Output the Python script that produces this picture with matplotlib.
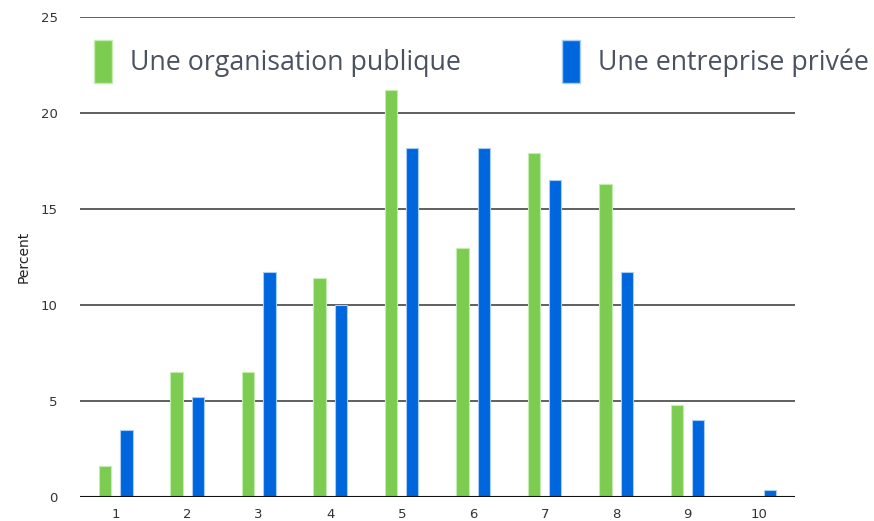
import matplotlib.pyplot as plt
import numpy as np
from matplotlib.patches import Patch

categories = ['1', '2', '3', '4', '5', '6', '7', '8', '9', '10']
publique = [1.6, 6.5, 6.5, 11.4, 21.2, 13.0, 17.9, 16.3, 4.8, 0.0]
privee = [3.5, 5.2, 11.7, 10.0, 18.2, 18.2, 16.5, 11.7, 4.0, 0.35]
labels = ['Une organisation publique', 'Une entreprise privée']

vert = '#7ccc52'
bleu = '#0066dd'

plt.rcParams['font.family'] = ['DejaVu Sans']

fig = plt.figure(figsize=(8.74, 5.21), dpi=100)
ax = fig.add_axes([0.0915, 0.046, 0.818, 0.921])

x = np.arange(1, len(categories) + 1)
w = 0.17
ax.bar(x - 0.15, publique, w, color=vert, edgecolor='#c5ecb0', linewidth=0.8, zorder=3)
ax.bar(x + 0.15, privee, w, color=bleu, edgecolor='#a8cdf5', linewidth=0.8, zorder=3)

ax.set_xlim(0.5, 10.5)
ax.set_ylim(0, 25)
ax.set_yticks([0, 5, 10, 15, 20, 25])
ax.set_xticks(x)
ax.set_xticklabels(categories)
ax.grid(axis='y', color='#444444', linewidth=1.2, zorder=0)
ax.axhline(0, color='#111111', linewidth=1.5, zorder=4)
for s in ax.spines.values():
    s.set_visible(False)
ax.tick_params(length=0, labelsize=9.5, colors='#333333')
ax.tick_params(axis='y', pad=16)
ax.tick_params(axis='x', pad=8)
ax.set_ylabel('Percent', fontsize=10, color='#222222', labelpad=7)

handles = [Patch(facecolor=vert, edgecolor='#c5ecb0'), Patch(facecolor=bleu, edgecolor='#a8cdf5')]
leg = ax.legend(handles, labels, ncol=2, loc='upper left', bbox_to_anchor=(0.0196, 0.952),
                frameon=False, handlelength=0.67, handleheight=2.1,
                handletextpad=0.67, columnspacing=3.77, borderpad=0, borderaxespad=0,
                prop={'family': 'Open Sans', 'size': 19.3}, labelcolor='#4a5260')

fig.savefig('out.png', dpi=100)
